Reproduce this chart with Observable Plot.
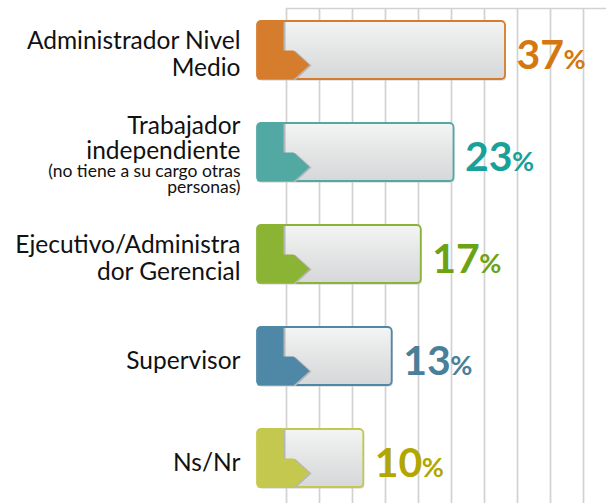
<!DOCTYPE html>
<html><head><meta charset="utf-8">
<script src="https://cdn.jsdelivr.net/npm/d3@7"></script>
<script src="https://cdn.jsdelivr.net/npm/@observablehq/plot@0.6"></script>
<style>
html,body{margin:0;padding:0;background:#fff;}
#chart{position:relative;width:606px;height:503px;overflow:hidden;}
#chart svg{position:absolute;left:0;top:0;}
</style></head><body>
<svg width="0" height="0" style="position:absolute"><defs>
<linearGradient id="barGrad" x1="0" y1="0" x2="0" y2="1">
<stop offset="0" stop-color="#f3f4f4"/><stop offset="1" stop-color="#d5d7d8"/>
</linearGradient></defs></svg>
<div id="chart"></div>
<script>
const categories = ["Administrador Nivel\nMedio", "Trabajador\nindependiente", "Ejecutivo/Administra\ndor Gerencial", "Supervisor", "Ns/Nr"];
const subLabels = ["", "(no tiene a su cargo otras\npersonas)", "", "", ""];
const values = [37, 23, 17, 13, 10];
const barColors = ["#d67d2d", "#52a9a4", "#8bb434", "#4f88a7", "#c5c84f"];
const textColors = ["#d4770e", "#17a19a", "#6ba314", "#4a7f9a", "#b1a700"];
const gridTicks = [0, 1, 2, 3, 4, 5, 6, 7, 8, 9];

const data = categories.map((c, i) => ({cat: c, sub: subLabels[i], value: values[i], bar: barColors[i], txt: textColors[i]}));
const xDomain = [3.75, 94];
const base = xDomain[0];
const font = "Lato, 'Open Sans', sans-serif";

const tab = {draw(ctx) {
  ctx.moveTo(0, -29); ctx.lineTo(26, -29); ctx.lineTo(26, 0); ctx.lineTo(36, 0);
  ctx.lineTo(52, 14.5); ctx.lineTo(36, 29); ctx.lineTo(0, 29); ctx.closePath();
}};

const grid = Plot.plot({
  width: 606, height: 503, marginLeft: 286, marginRight: 0, marginTop: 8, marginBottom: 0,
  x: {domain: [0, 320 / 33], axis: null},
  y: {domain: [0, 1], axis: null},
  marks: [
    Plot.ruleX(gridTicks, {stroke: "#d2d2d2", strokeWidth: 1.7}),
    Plot.ruleY([1], {stroke: "#d2d2d2", strokeWidth: 1.7})
  ]
});

const main = Plot.plot({
  width: 606, height: 503, marginLeft: 257, marginRight: 0, marginTop: 0, marginBottom: 0,
  style: {background: "transparent", fontFamily: font},
  x: {type: "log", domain: xDomain, axis: null},
  y: {domain: categories, range: [-23.5, 530.9], padding: 0.43, axis: null},
  color: {type: "identity"},
  marks: [
    Plot.rectX(data, {x1: base, x2: "value", y: "cat", fill: "#c9cbcc", rx: 4, dx: 1, dy: 1.5}),
    Plot.rectX(data, {x1: base, x2: "value", y: "cat", fill: "url(#barGrad)", stroke: "bar", strokeWidth: 1.8, rx: 4}),
    Plot.dot(data, {x: base, y: "cat", symbol: tab, fill: "#b4b7b9", stroke: null, r: 10, dx: 2, dy: 0.5}),
    Plot.dot(data, {x: base, y: "cat", symbol: tab, fill: "bar", stroke: null, r: 10}),
    Plot.text(data.filter(d => !d.sub && d.cat.includes("\n")), {x: base, y: "cat", text: "cat", textAnchor: "end", dx: -17, dy: 3, fontSize: 24.5, lineHeight: 27 / 24.5, fill: "#111"}),
    Plot.text(data.filter(d => !d.sub && !d.cat.includes("\n")), {x: base, y: "cat", text: "cat", textAnchor: "end", dx: -17, dy: 5, fontSize: 24.5, fill: "#111"}),
    Plot.text(data.filter(d => d.sub), {x: base, y: "cat", text: "cat", textAnchor: "end", dx: -17, dy: -14.5, fontSize: 24.5, lineHeight: 25 / 24.5, fill: "#111"}),
    Plot.text(data.filter(d => d.sub), {x: base, y: "cat", text: "sub", textAnchor: "end", dx: -17, dy: 27.5, fontSize: 17.5, lineHeight: 15.5 / 17.5, fill: "#111"}),
    Plot.text(data, {x: "value", y: "cat", text: d => String(d.value), fill: "txt", fontSize: 41, fontWeight: "bold", textAnchor: "start", dx: 11, dy: 5}),
    Plot.text(data, {x: "value", y: "cat", text: d => "%", fill: "txt", fontSize: 27, fontWeight: "bold", textAnchor: "start", dx: 58, dy: 9.5})
  ]
});

const chart = document.getElementById("chart");
chart.appendChild(grid);
chart.appendChild(main);
</script>
</body></html>
